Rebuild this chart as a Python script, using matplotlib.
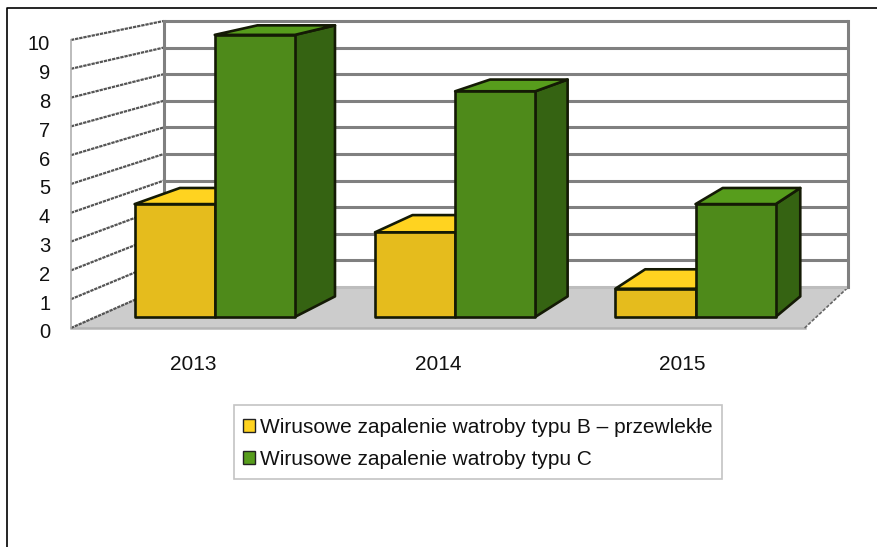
import matplotlib
matplotlib.use('Agg')
import matplotlib.pyplot as plt
from matplotlib.lines import Line2D
from matplotlib.patches import Patch, Polygon, Rectangle

plt.rcParams['font.family'] = ['Liberation Sans', 'DejaVu Sans']

years = ['2013', '2014', '2015']
labels = ['Wirusowe zapalenie watroby typu B \u2013 przewlekłe', 'Wirusowe zapalenie watroby typu C']
hbv = [4, 3, 1]
hcv = [10, 8, 4]
yticks = list(range(0, 11))

# pseudo 3d look: depth 0 is the front plane, depth 1 the back wall
VX, VY = 5.504, 18.65
FX, FY = 0.0633, 0.0764
BAR_D0, BAR_D1 = 0.27, 0.77
BAR_W = 1 / 3


def proj(x, y, d=0.0):
    return x + d * FX * (VX - x), y + d * FY * (VY - y)


fig = plt.figure(figsize=(8.78, 5.47), dpi=100)
ax = fig.add_axes([0, 0, 1, 1])
ax.set_xlim(-0.79, 2.8)
ax.set_ylim(-7.604, 11.389)
ax.axis('off')

x0, x1 = -0.5, 2.5
x1_back = 2.488
wall = '#808080'

# floor
floor = [proj(x0, 0, 0), proj(x1, 0, 0), proj(x1_back, 0, 1), proj(x0, 0, 1)]
ax.add_patch(Polygon(floor, closed=True, fc='#cccccc', ec='none', zorder=1))
ax.plot([floor[0][0], floor[1][0]], [0, 0], color='#b4b4b4', lw=1.8, zorder=2)
ax.plot([floor[1][0], floor[2][0]], [floor[1][1], floor[2][1]], color='#666666', lw=1.2,
        ls=(0, (2, 1)), zorder=2)

# back wall and side wall grid
for v in yticks:
    a = proj(x0, v, 1)
    b = proj(x1_back, v, 1)
    c = proj(x0, v, 0)
    col = '#bdbdbd' if v == 0 else wall
    ax.plot([a[0], b[0]], [a[1], b[1]], color=col, lw=2.2, zorder=2, solid_capstyle='butt')
    ax.plot([c[0], a[0]], [c[1], a[1]], color='#555555', lw=1.6, ls=(0, (1.5, 0.4)), zorder=2)
for x in [x0, x1_back]:
    a = proj(x, 0, 1)
    b = proj(x, 10, 1)
    ax.plot([a[0], b[0]], [a[1], b[1]], color=wall, lw=2.2, zorder=2)
ax.plot([x0, x0], [0, 10], color='#b0b0b0', lw=1.2, zorder=2)


def draw_bar(xl, xr, v, front, top, side, z):
    edge = '#141a05'
    ax.add_patch(Polygon([proj(xr, 0, BAR_D0), proj(xr, 0, BAR_D1), proj(xr, v, BAR_D1), proj(xr, v, BAR_D0)],
                         fc=side, ec=edge, lw=1.9, joinstyle='round', zorder=z))
    ax.add_patch(Polygon([proj(xl, v, BAR_D0), proj(xr, v, BAR_D0), proj(xr, v, BAR_D1), proj(xl, v, BAR_D1)],
                         fc=top, ec=edge, lw=1.9, joinstyle='round', zorder=z))
    ax.add_patch(Polygon([proj(xl, 0, BAR_D0), proj(xr, 0, BAR_D0), proj(xr, v, BAR_D0), proj(xl, v, BAR_D0)],
                         fc=front, ec=edge, lw=1.9, joinstyle='round', zorder=z))


for i in range(len(years)):
    xc = i - 0.006
    draw_bar(xc - BAR_W, xc, hbv[i], '#e5bc1d', '#ffd320', '#8a7212', 3)
    draw_bar(xc, xc + BAR_W, hcv[i], '#4e8a1a', '#579d1c', '#356312', 4)

for v in yticks:
    ax.text(-0.585, v - 0.17, str(v), ha='right', va='center', fontsize=14.5, color='#111111')
for i, y in enumerate(years):
    ax.text(i, -1.25, y, ha='center', va='center', fontsize=15, color='#111111')

# legend box is taller than the text needs, so it is drawn on its own
ax.add_patch(Rectangle((234 / 878, 1 - 479 / 547), 488 / 878, 74 / 547, transform=ax.transAxes,
                       fc='white', ec='#c4c4c4', lw=1.2, zorder=5))
handles = [Patch(fc='#ffd320', ec='#222222', lw=1), Patch(fc='#579d1c', ec='#222222', lw=1)]
leg = ax.legend(handles, labels, loc='upper left', bbox_to_anchor=(234 / 878, 1 - 409 / 547),
                fontsize=15, frameon=False, handlelength=0.58, handleheight=0.58,
                handletextpad=0.24, labelspacing=0.62, borderpad=0.43, borderaxespad=0,
                labelcolor='#111111')
leg.set_zorder(6)

# outer chart frame, only top and left are inside the image
fig.add_artist(Line2D([7 / 878, 7 / 878, 1], [0, 1 - 8 / 547, 1 - 8 / 547], color='black', lw=1.2))

fig.savefig('out.png', dpi=100)
